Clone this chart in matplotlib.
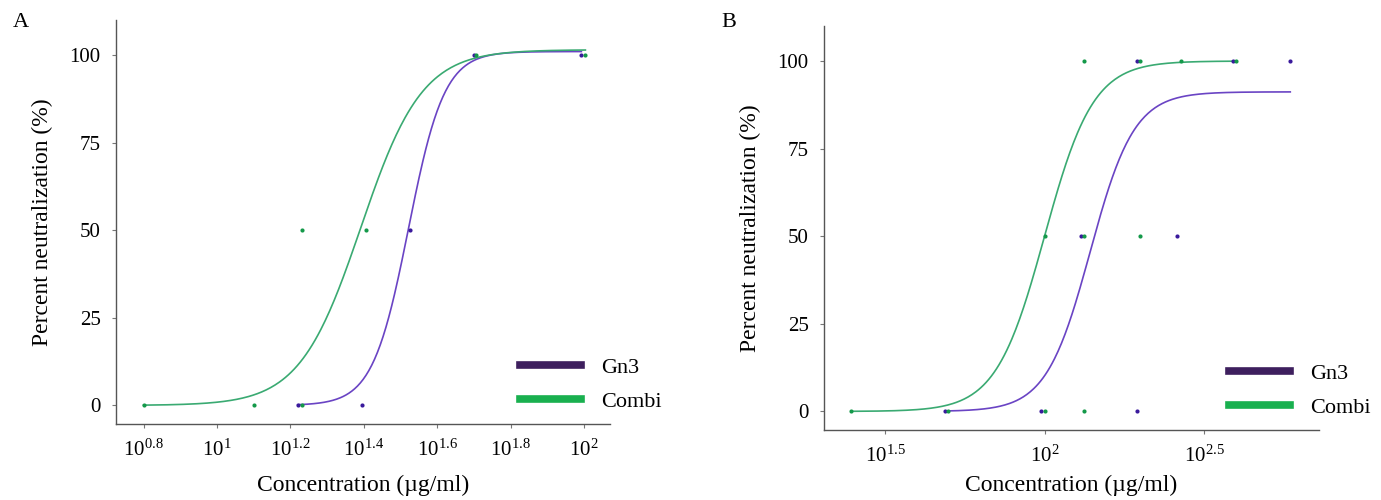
import numpy as np
import matplotlib
matplotlib.use("Agg")
from matplotlib import pyplot as plt
from matplotlib.lines import Line2D

plt.rcParams['font.family'] = ['Liberation Serif', 'DejaVu Serif']
plt.rcParams['mathtext.fontset'] = 'custom'
plt.rcParams['mathtext.rm'] = 'Liberation Serif'

# panel A data (log10 of concentration, % neutralization)
a_combi_logx = [0.80, 1.10, 1.233, 1.233, 1.405, 1.705, 2.004]
a_combi_y = [0, 0, 0, 50, 50, 100, 100]
a_gn3_logx = [1.22, 1.394, 1.525, 1.70, 1.993]
a_gn3_y = [0, 0, 50, 100, 100]

# panel B data
b_combi_logx = [1.393, 1.697, 2.0, 2.125, 2.0, 2.125, 2.30, 2.125, 2.30, 2.427, 2.60]
b_combi_y = [0, 0, 0, 0, 50, 50, 50, 100, 100, 100, 100]
b_gn3_logx = [1.6875, 1.9875, 2.29, 2.115, 2.415, 2.29, 2.59, 2.77]
b_gn3_y = [0, 0, 0, 50, 50, 100, 100, 100]

# fitted curves: bottom, top, log10 EC50, hill slope
a_combi_fit = [0, 101.5, 1.392, 5.2]
a_gn3_fit = [0, 101.0, 1.522, 8.9]
b_combi_fit = [0, 100.0, 2.0, 5.7]
b_gn3_fit = [0, 91.2, 2.143, 6.3]

a_ticks = [0.8, 1.0, 1.2, 1.4, 1.6, 1.8, 2.0]
a_ticklabels = ['0.8', '1', '1.2', '1.4', '1.6', '1.8', '2']
b_ticks = [1.5, 2.0, 2.5]
b_ticklabels = ['1.5', '2', '2.5']
y_ticks = [0, 25, 50, 75, 100]

names = ['Gn3', 'Combi']
point_col = ['#3a1a9c', '#14994a']
curve_col = ['#6a44c4', '#3aaa72']
legend_col = ['#3e1f5e', '#19b04f']


def hill(logx, p):
    bottom, top, ec, h = p
    return bottom + (top - bottom) / (1 + 10 ** ((ec - logx) * h))


def panel(ax, series, ticks, ticklabels, xlim, xpad):
    for i, (lx, y, p) in enumerate(series):
        xs = np.linspace(min(lx), max(lx), 300)
        ax.plot(10 ** xs, hill(xs, p), color=curve_col[i], lw=1.2, zorder=2)
    for i, (lx, y, p) in enumerate(series):
        ax.plot(10 ** np.array(lx), y, 'o', color=point_col[i], ms=3, mew=0, zorder=3)
    ax.set_xscale('log')
    ax.set_xlim(10 ** xlim[0], 10 ** xlim[1])
    ax.set_ylim(-5.3, 110)
    ax.set_xticks([10 ** t for t in ticks])
    ax.set_xticklabels([r'$\mathregular{10^{%s}}$' % t for t in ticklabels])
    ax.xaxis.set_minor_locator(matplotlib.ticker.NullLocator())
    ax.set_yticks(y_ticks)
    ax.set_yticklabels([str(v) for v in y_ticks])
    for s in ['top', 'right']:
        ax.spines[s].set_visible(False)
    for s in ['left', 'bottom']:
        ax.spines[s].set_color('#555555')
        ax.spines[s].set_linewidth(1.0)
    ax.tick_params(axis='both', length=3, width=0.8, color='#777777', labelsize=15, pad=8)
    ax.set_xlabel('Concentration (µg/ml)', fontsize=17, labelpad=xpad)
    ax.set_ylabel('Percent neutralization (%)', fontsize=17, labelpad=12)
    handles = [Line2D([], [], color=legend_col[k], lw=5.5) for k in range(2)]
    ax.legend(handles, names, loc='lower left', bbox_to_anchor=(0.818, 0.03), frameon=False,
              fontsize=16, handlelength=2.75, handletextpad=0.9, labelspacing=0.6,
              borderpad=0, borderaxespad=0)


fig = plt.figure(figsize=(13.81, 5.0), dpi=100)
ax1 = fig.add_axes([0.084, 0.152, 0.3577, 0.808])
ax2 = fig.add_axes([0.5967, 0.14, 0.3584, 0.808])

panel(ax1, [(a_gn3_logx, a_gn3_y, a_gn3_fit), (a_combi_logx, a_combi_y, a_combi_fit)],
      a_ticks, a_ticklabels, (0.725, 2.071), 10)
panel(ax2, [(b_gn3_logx, b_gn3_y, b_gn3_fit), (b_combi_logx, b_combi_y, b_combi_fit)],
      b_ticks, b_ticklabels, (1.309, 2.86), 6)

fig.text(0.009, 0.955, 'A', fontsize=16, va='center')
fig.text(0.522, 0.955, 'B', fontsize=16, va='center')

fig.savefig('out.png', dpi=100)
